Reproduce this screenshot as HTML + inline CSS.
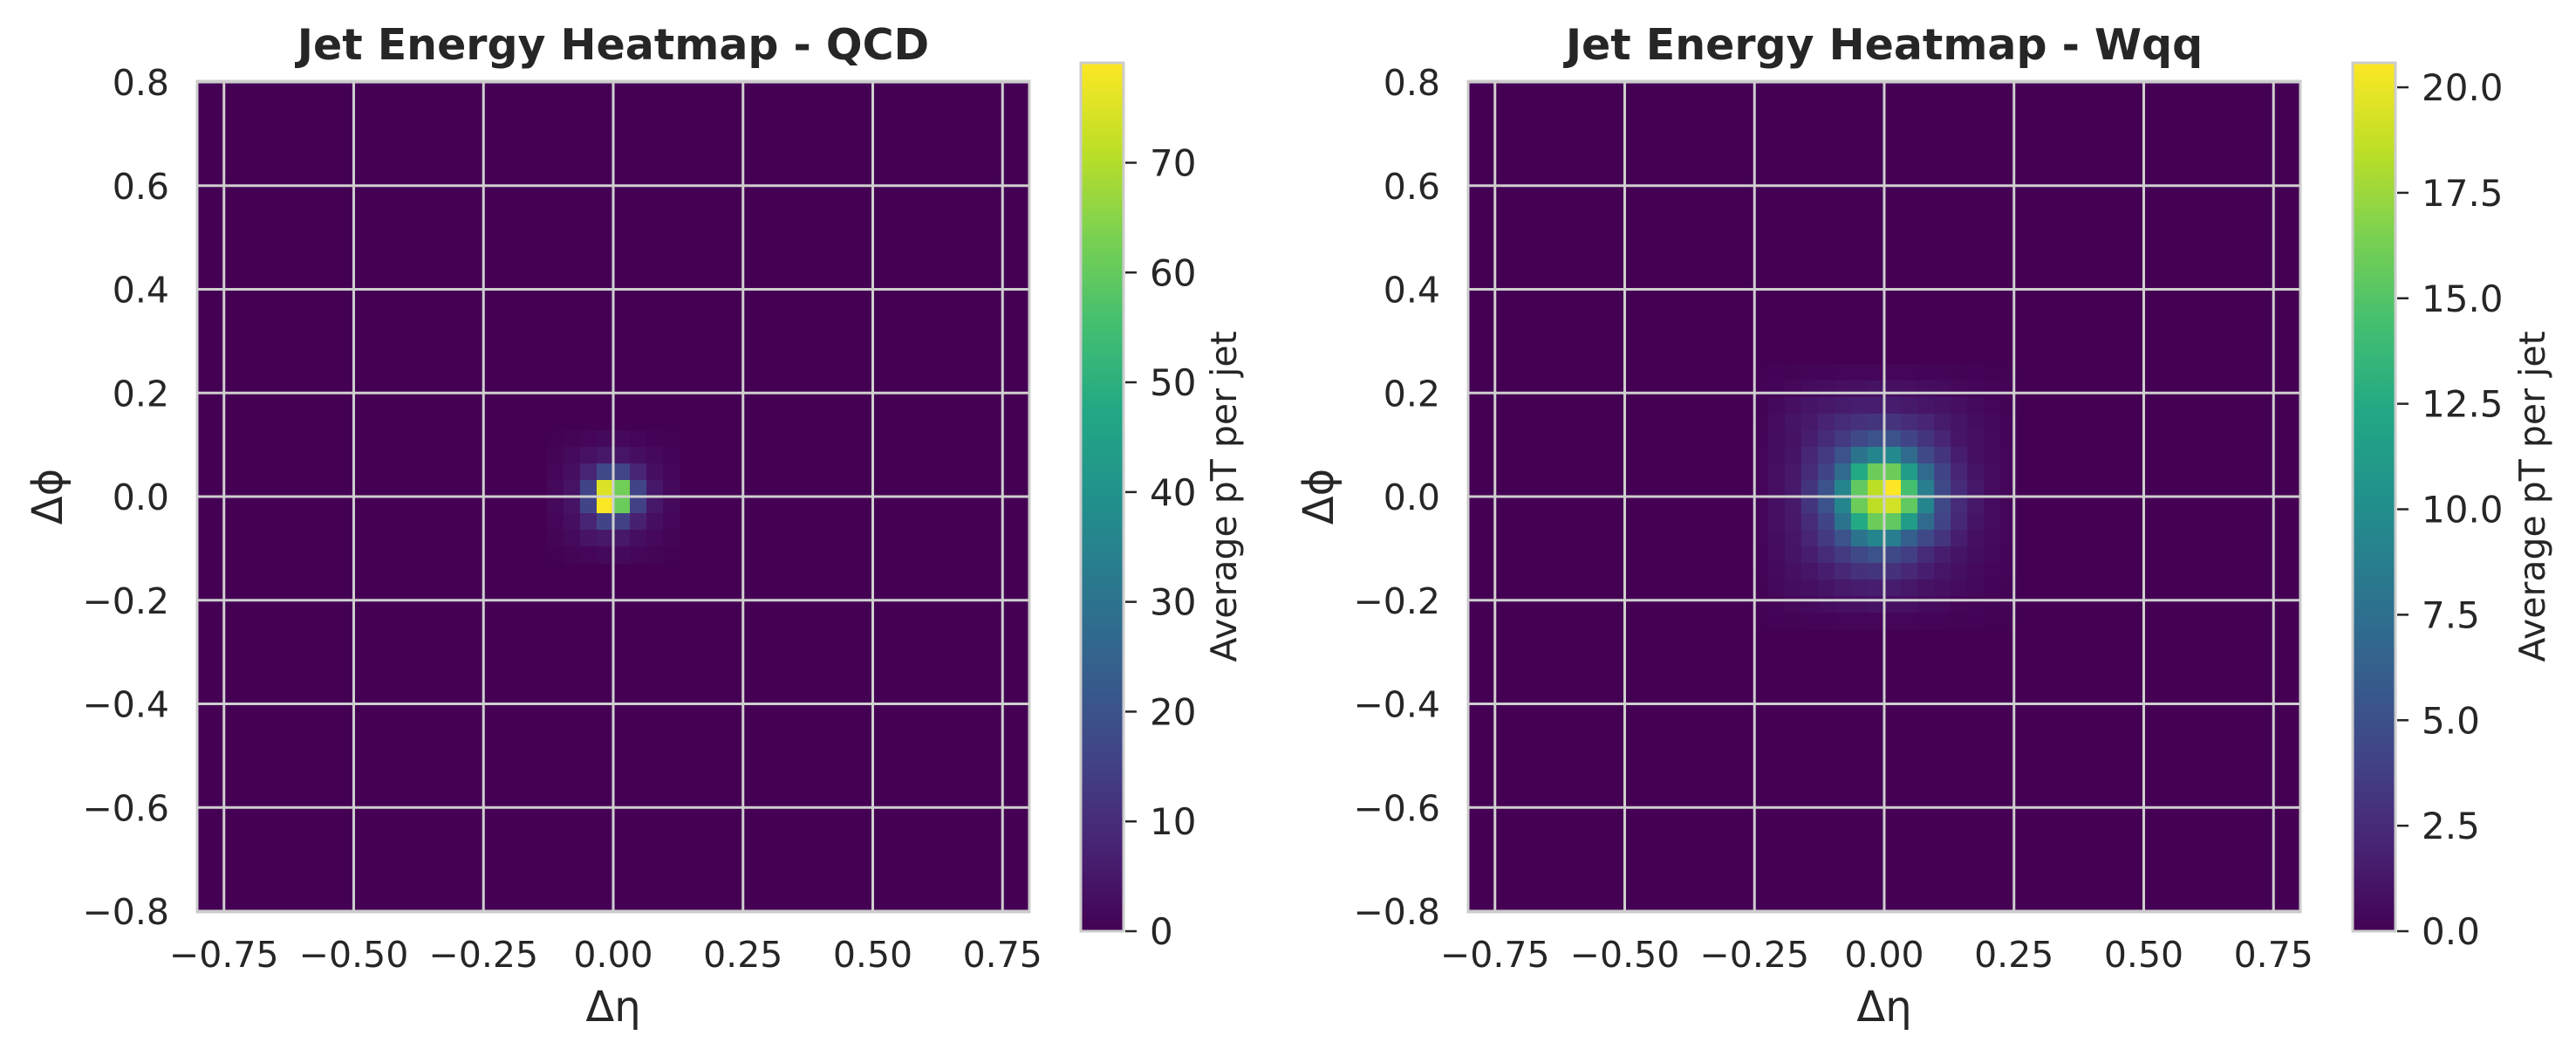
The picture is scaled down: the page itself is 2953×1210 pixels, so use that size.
<!DOCTYPE html>
<html><head><meta charset="utf-8"><style>
html,body{margin:0;padding:0;background:#fff;}
svg{display:block;font-family:"DejaVu Sans","Liberation Sans",sans-serif;}
</style></head><body>
<svg id="fig" width="2953" height="1210" viewBox="0 0 2953 1210"></svg>
<script>
// ---- data ----
const nBins = 50;
const etaTicks = [-0.75,-0.5,-0.25,0,0.25,0.5,0.75];
const etaTickLabels = ["\u22120.75","\u22120.50","\u22120.25","0.00","0.25","0.50","0.75"];
const phiTicks = [0.8,0.6,0.4,0.2,0,-0.2,-0.4,-0.6,-0.8];
const phiTickLabels = ["0.8","0.6","0.4","0.2","0.0","\u22120.2","\u22120.4","\u22120.6","\u22120.8"];
// QCD window: rows 21..28, cols 21..28 (row 0 = top, phi high)
const qcdRow0 = 21, qcdCol0 = 21;
const qcdValues = [
 [0.3,0.8,1.2,1.8,1.5,1,0.5,0.2],
 [0.8,2,3.5,5,4.5,3,1.5,0.6],
 [1.2,3,8,17,16,8,3,1.2],
 [1.6,4,16,75,62,16,5,1.6],
 [1.6,4,16,79,61,15,5,1.6],
 [1.2,3,8,16,15,7,3,1.2],
 [0.8,2,4,5,5,3,1.5,0.8],
 [0.3,0.8,1.2,1.8,1.8,1.2,0.8,0.3]
];
const qcdMax = 79.1;
const qcdCbTicks = [0,10,20,30,40,50,60,70];
const qcdCbLabels = ["0","10","20","30","40","50","60","70"];
// Wqq window: rows 17..32, cols 17..32
const wqqRow0 = 17, wqqCol0 = 17;
const wqqValues = [
 [0.05,0.1,0.15,0.2,0.25,0.3,0.3,0.3,0.3,0.3,0.25,0.2,0.15,0.1,0.05,0.05],
 [0.1,0.25,0.4,0.6,0.7,0.8,0.9,1.0,0.9,0.8,0.7,0.6,0.4,0.3,0.2,0.1],
 [0.15,0.4,0.8,1.1,1.3,1.5,1.7,1.7,1.6,1.4,1.2,1.0,0.8,0.5,0.3,0.15],
 [0.2,0.6,1.1,1.4,2.0,2.5,2.9,3.1,3.0,2.6,2.1,1.5,1.1,0.7,0.4,0.2],
 [0.25,0.7,1.0,1.7,2.5,3.5,4.5,5.2,5.2,4.2,3.1,2.1,1.2,0.8,0.5,0.25],
 [0.3,0.7,1.1,2.2,3.5,5.2,7.8,9.3,9.7,7.2,4.5,3.1,1.7,0.9,0.5,0.3],
 [0.3,0.8,1.3,2.5,4.1,7.2,12.4,15.9,15.9,11.3,7.2,4.1,2.1,1.1,0.6,0.3],
 [0.3,0.8,1.4,3.1,5.2,9.3,15.5,18.5,20.6,14.4,8.7,4.5,2.5,1.3,0.6,0.3],
 [0.3,0.8,1.4,3.1,5.2,9.3,15.9,18.5,19.2,15.5,9.3,4.5,2.5,1.3,0.6,0.3],
 [0.3,0.8,1.3,2.5,4.1,7.8,12.4,15.9,15.5,11.3,7.2,4.1,2.3,1.1,0.6,0.3],
 [0.3,0.7,1.2,2.1,3.5,5.2,7.8,9.3,8.7,6.2,4.5,3.1,1.7,0.9,0.5,0.3],
 [0.25,0.6,1.1,1.7,2.5,3.5,4.5,5.2,4.5,3.7,2.5,1.7,1.1,0.7,0.4,0.25],
 [0.2,0.5,0.9,1.2,1.7,2.3,2.9,3.1,2.9,2.3,1.7,1.2,0.9,0.5,0.3,0.2],
 [0.15,0.4,0.7,0.9,1.1,1.4,1.6,1.7,1.6,1.3,1.0,0.8,0.6,0.4,0.2,0.15],
 [0.1,0.2,0.4,0.5,0.7,0.8,0.9,1.0,0.9,0.8,0.6,0.5,0.3,0.2,0.15,0.1],
 [0.05,0.1,0.15,0.2,0.25,0.3,0.3,0.3,0.3,0.3,0.25,0.2,0.15,0.1,0.05,0.05]
];
const wqqMax = 20.58;
const wqqCbTicks = [0,2.5,5,7.5,10,12.5,15,17.5,20];
const wqqCbLabels = ["0.0","2.5","5.0","7.5","10.0","12.5","15.0","17.5","20.0"];

// ---- helpers ----
const NS = "http://www.w3.org/2000/svg";
const svg = document.getElementById('fig');
const vir = ["#440154","#482475","#414487","#355f8d","#2a788e","#21918c","#22a884","#44bf70","#7ad151","#bddf26","#fde725"];
function hex(h){return [1,3,5].map(i=>parseInt(h.substr(i,2),16));}
function cmap(t){
  t=Math.max(0,Math.min(1,t)); const p=t*10; const i=Math.min(9,Math.floor(p)); const f=p-i;
  const a=hex(vir[i]), b=hex(vir[i+1]);
  return "rgb("+a.map((v,k)=>Math.round(v+(b[k]-v)*f)).join(",")+")";
}
function el(tag, attrs, parent){
  const e=document.createElementNS(NS,tag);
  for(const k in attrs) e.setAttribute(k,attrs[k]);
  (parent||svg).appendChild(e); return e;
}
function txt(s, attrs, parent){const t=el('text',attrs,parent); t.textContent=s; return t;}

function panel(cfg){
  const g=el('g',{});
  
  
  const X0=cfg.x0, X1=cfg.x1, Y0=94, Y1=1044;
  const xs=v=>X0+(v+0.8)/1.6*(X1-X0);
  const ys=v=>Y0+(0.8-v)/1.6*(Y1-Y0);
  const cw=(X1-X0)/nBins, ch=(Y1-Y0)/nBins;
  const bg=el('rect',{x:X0,y:Y0,width:X1-X0,height:Y1-Y0,fill:cmap(0)},g);
  
  
  cfg.vals.forEach((row,ri)=>row.forEach((v,ci)=>{
    const r=cfg.r0+ri, c=cfg.c0+ci;
    const eta=-0.8+c*1.6/nBins, phi=0.8-r*1.6/nBins;
    const cell=el('rect',{x:xs(eta).toFixed(2),y:ys(phi).toFixed(2),width:(cw+0.6).toFixed(2),height:(ch+0.6).toFixed(2),fill:cmap(v/cfg.max)},g);
    
    
  }));
  etaTicks.forEach(t=>{const l=el('line',{x1:xs(t),x2:xs(t),y1:Y0,y2:Y1,stroke:'#cfcfcf','stroke-width':3},g);
     });
  phiTicks.forEach(t=>{const l=el('line',{x1:X0,x2:X1,y1:ys(t),y2:ys(t),stroke:'#cfcfcf','stroke-width':3},g);
     });
  const fr=el('rect',{x:X0-1,y:Y0-1,width:X1-X0+2,height:Y1-Y0+2,fill:'none',stroke:'#cccccc','stroke-width':3},g);
   
  etaTicks.forEach((t,i)=>{const e=txt(etaTickLabels[i],{x:xs(t),y:1108,'font-size':41,fill:'#262626','text-anchor':'middle'},g);
     });
  phiTicks.forEach((t,i)=>{const e=txt(phiTickLabels[i],{x:X0-33,y:ys(t)+15,'font-size':41,fill:'#262626','text-anchor':'end'},g);
     });
  const xt=txt('\u0394\u03b7',{x:(X0+X1)/2,y:1170,'font-size':48,fill:'#262626','text-anchor':'middle'},g);
   
  const yx=X0-172;
  const yt=txt('\u0394\u03d5',{x:yx,y:569,'font-size':48,fill:'#262626','text-anchor':'middle',transform:'rotate(-90 '+yx+' 569) translate(0 16)'},g);
   
  const tt=txt(cfg.title,{x:(X0+X1)/2,y:68,'font-size':49,'font-weight':'bold',fill:'#262626','text-anchor':'middle'},g);
   
  const CX0=cfg.cb0, CX1=cfg.cb0+49, CY0=72, CY1=1067;
  const gid='grad'+cfg.cb0;
  const defs=el('defs',{},g);
  const lg=el('linearGradient',{id:gid,x1:0,y1:1,x2:0,y2:0},defs);
  for(let i=0;i<=20;i++) el('stop',{offset:i/20,'stop-color':cmap(i/20)},lg);
  const cb=el('rect',{x:CX0,y:CY0,width:CX1-CX0,height:CY1-CY0,fill:'url(#'+gid+')',stroke:'#cccccc','stroke-width':3},g);
   
  const cys=v=>CY1-v/cfg.max*(CY1-CY0);
  cfg.cbTicks.forEach((t,i)=>{
    const tk=el('line',{x1:CX1+2,x2:CX1+15,y1:cys(t),y2:cys(t),stroke:'#262626','stroke-width':2.5},g);
     
    const lb=txt(cfg.cbLabels[i],{x:CX1+30,y:cys(t)+15,'font-size':42,fill:'#262626'},g);
     
  });
  const lx=cfg.cbLabelX;
  const cl=txt('Average pT per jet',{x:lx,y:569,'font-size':41,fill:'#262626','text-anchor':'middle',transform:'rotate(-90 '+lx+' 569) translate(0 14)'},g);
   
}
panel({name:'qcd-heatmap-panel',title:'Jet Energy Heatmap - QCD',x0:227,x1:1179,vals:qcdValues,r0:qcdRow0,c0:qcdCol0,max:qcdMax,cb0:1239,cbTicks:qcdCbTicks,cbLabels:qcdCbLabels,cbLabelX:1403});
panel({name:'wqq-heatmap-panel',title:'Jet Energy Heatmap - Wqq',x0:1684,x1:2636,vals:wqqValues,r0:wqqRow0,c0:wqqCol0,max:wqqMax,cb0:2697,cbTicks:wqqCbTicks,cbLabels:wqqCbLabels,cbLabelX:2903});
</script>
</body></html>
